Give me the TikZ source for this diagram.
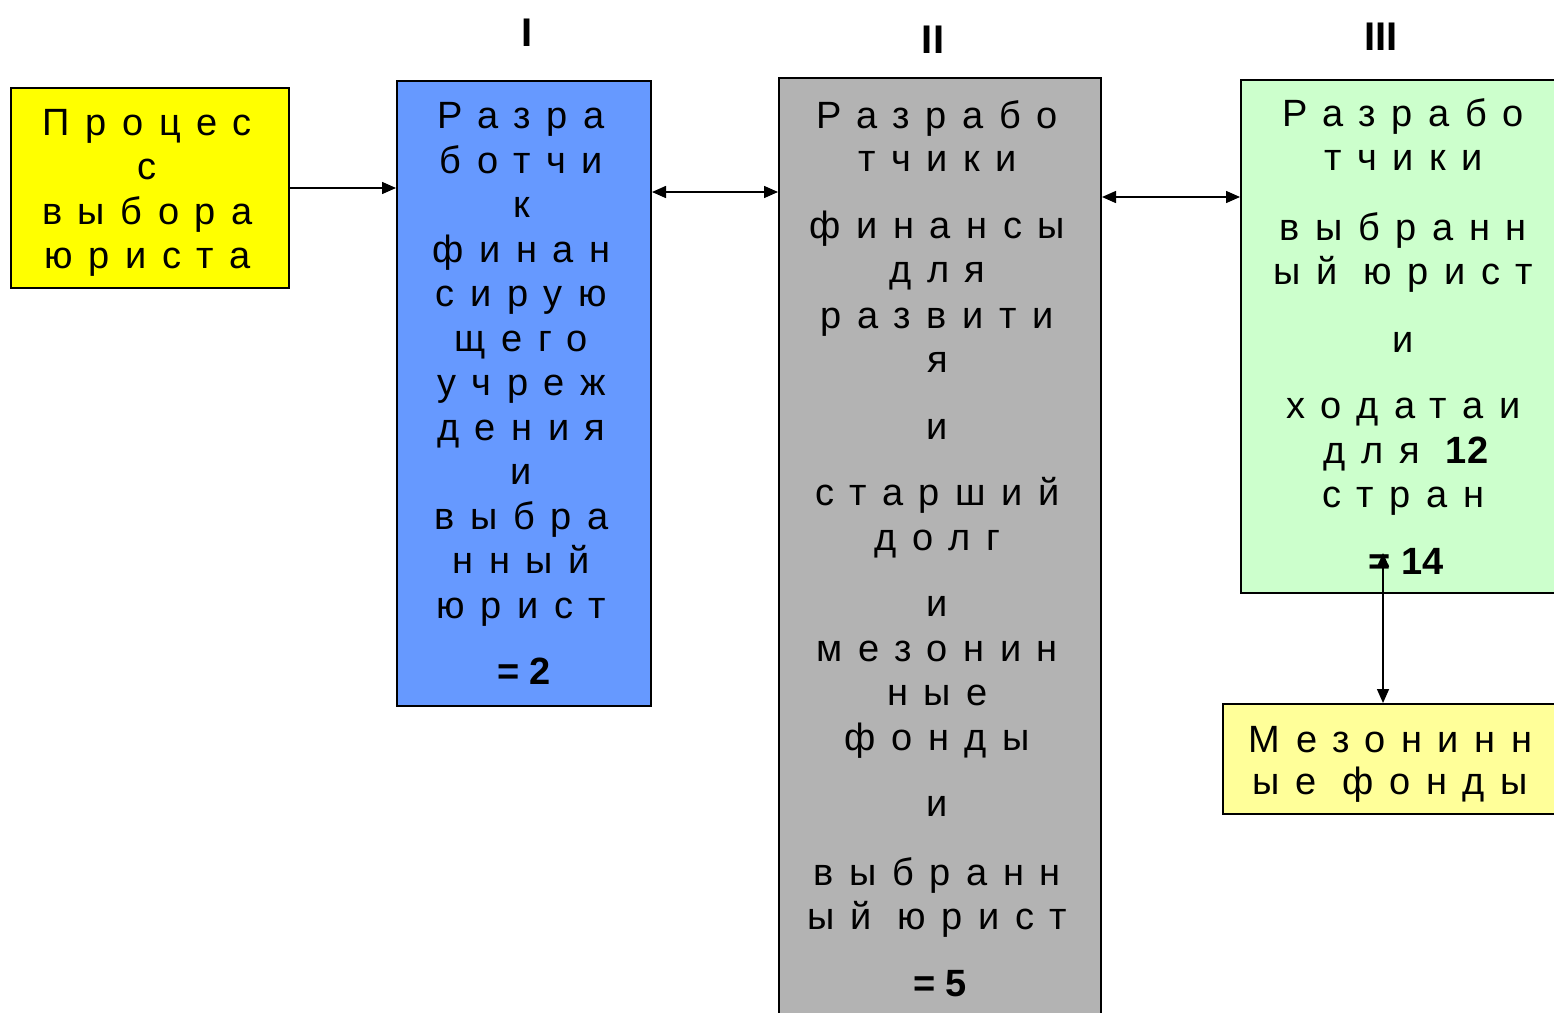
\documentclass[tikz,border=0pt]{standalone}
\usepackage{fontspec}
\setmainfont{Liberation Sans}
\newfontfamily\spc[LetterSpace=41]{Liberation Sans}
\usetikzlibrary{arrows.meta}
\newcommand\sline[1]{#1\kern0.14em}
\newcommand\mybold[1]{{\rmfamily\bfseries #1}}
\definecolor{cyel}{HTML}{FFFF00}
\definecolor{cblue}{HTML}{6699FF}
\definecolor{cgray}{HTML}{B3B3B3}
\definecolor{cgreen}{HTML}{CCFFCC}
\definecolor{clyel}{HTML}{FFFF99}
\tikzset{
  box/.style={draw=black, line width=2pt, anchor=north west, inner sep=0pt,
    align=center, font=\spc\fontsize{38}{44.5}\selectfont},
  conn/.style={line width=1.5pt, -{Triangle[length=14pt,width=12pt]}},
  dconn/.style={line width=1.5pt, {Triangle[length=14pt,width=12pt]}-{Triangle[length=14pt,width=12pt]}},
  roman/.style={font=\bfseries\fontsize{40}{40}\selectfont, inner sep=0pt}
}
\begin{document}
\begin{tikzpicture}[x=1pt,y=-1pt]
\useasboundingbox (0,0) rectangle (1554,1012);
\node[box, fill=cyel, minimum width=278pt, minimum height=200pt] (yel) at (10,87)
  {\rule{0pt}{36pt}\sline{Процес}\\ \sline{с}\\ \sline{выбора}\\ \sline{юриста}};
\node[box, fill=cblue, minimum width=254pt, minimum height=625pt] (blue) at (396,80)
  {\sline{Разра}\\ \sline{ботчи}\\ \sline{к}\\ \sline{финан}\\ \sline{сирую}\\ \sline{щего}\\
   \sline{учреж}\\ \sline{дения}\\ \sline{и}\\ \sline{выбра}\\ \sline{нный}\\ \sline{юрист}\\[22pt]
   \mybold{= 2}};
\node[box, fill=cgray, minimum width=322pt, minimum height=944pt] (gray) at (778,77)
  {\sline{Разрабо}\\[-1pt] \sline{тчики}\\[22pt] \sline{финансы}\\ \sline{для}\\[1pt] \sline{развити}\\ \sline{я}\\[22pt]
   \sline{и}\\[22pt] \sline{старший}\\ \sline{долг}\\[22pt] \sline{и}\\ \sline{мезонин}\\ \sline{ные}\\ \sline{фонды}\\[22pt]
   \sline{и}\\[24pt] \sline{выбранн}\\ \sline{ый юрист}\\[22pt] \mybold{= 5}\rule[-3pt]{0pt}{3pt}};
\node[box, fill=cgreen, minimum width=330pt, minimum height=513pt] (green) at (1240,79)
  {\sline{Разрабо}\\ \sline{тчики}\\[25pt] \sline{выбранн}\\ \sline{ый юрист}\\[23pt] \sline{и}\\[22pt]
   \sline{ходатаи}\\ для \mybold{12}\\ \sline{стран}\\[22pt] \mybold{= 14}};
\node[box, fill=clyel, minimum width=340pt, minimum height=110pt,
  font=\spc\fontsize{38}{42}\selectfont] (ly) at (1222,703)
  {\rule{0pt}{36pt}\sline{Мезонинн}\\ \sline{ые фонды}};
\node[roman] (r1) at (527,33) {I};
\node[roman] (r2) at (933,40) {II};
\node[roman] (r3) at (1381,37) {III};
\draw[conn] (yel.east) -- (yel.east -| blue.west);
\coordinate (a2) at ([yshift=-112pt]blue.north east);
\draw[dconn] (a2) -- (a2 -| gray.west);
\coordinate (a3) at ([yshift=-120pt]gray.north east);
\draw[dconn] (a3) -- (a3 -| green.west);
\coordinate (v1) at (1383,553);
\draw[dconn] (v1) -- (v1 |- ly.north);
\end{tikzpicture}
\end{document}
